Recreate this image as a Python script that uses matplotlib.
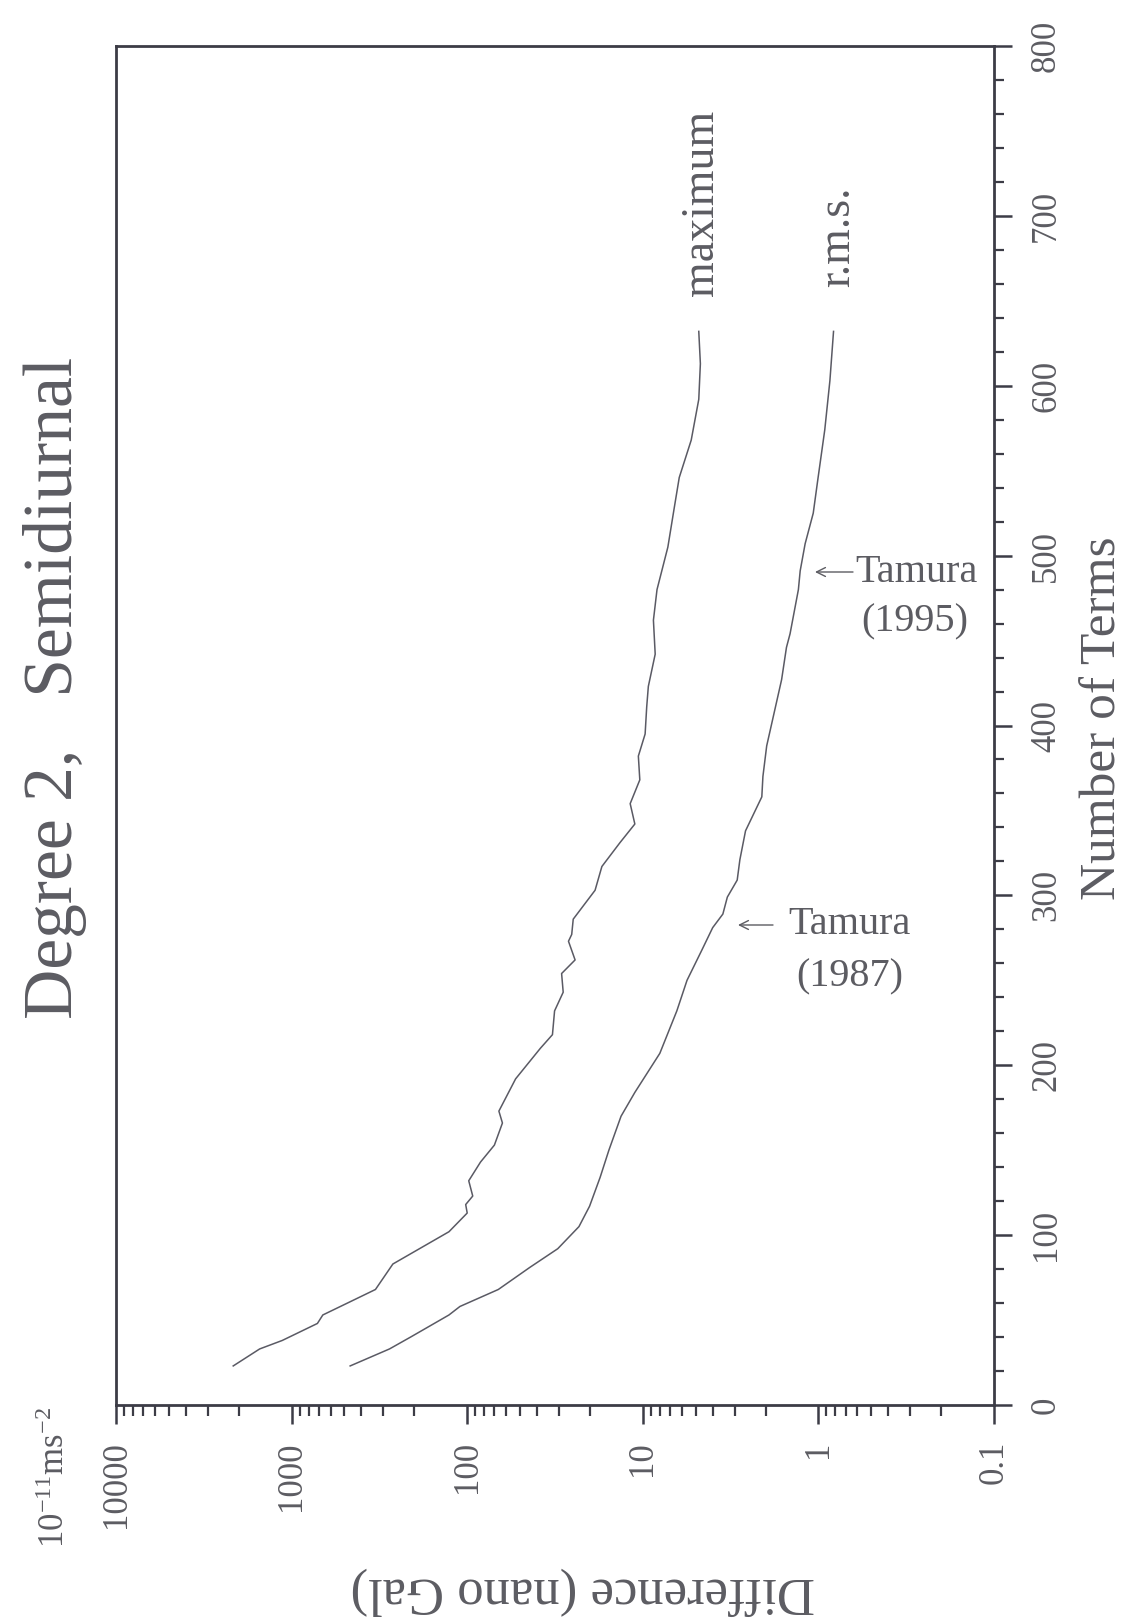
import numpy as np
import matplotlib
matplotlib.use('Agg')
import matplotlib.pyplot as plt
from matplotlib.ticker import LogLocator, NullFormatter, MultipleLocator

# ---------------- data ----------------
terms_max = [23, 33, 38, 48, 53, 60, 68, 83, 102, 113, 118, 123, 132, 143, 153,
             166, 173, 192, 210, 218, 232, 243, 254, 262, 273, 277, 286, 303,
             317, 331, 342, 354, 368, 382, 395, 411, 423, 442, 462, 480, 505,
             529, 546, 568, 592, 613, 632]
diff_max = [2150, 1520, 1130, 713, 664, 481, 333, 265, 127, 100, 102, 93, 98,
            84, 70, 63, 66, 53, 38.3, 32.7, 31.8, 28.4, 29.0, 24.3, 26.5, 25.4,
            24.9, 18.7, 17.1, 13.5, 11.1, 11.8, 10.4, 10.6, 9.7, 9.5, 9.3, 8.5,
            8.7, 8.3, 7.2, 6.6, 6.2, 5.3, 4.8, 4.7, 4.8]

terms_rms = [23, 33, 40, 53, 58, 68, 81, 92, 105, 117, 134, 150, 170, 184, 207,
             232, 250, 268, 281, 289, 299, 309, 321, 338, 358, 370, 388, 427,
             446, 454, 480, 491, 507, 525, 544, 574, 603, 632]
diff_rms = [464, 277, 210, 127, 110, 66.5, 44, 30.5, 23.1, 20.1, 17.5, 15.6,
            13.3, 11.1, 8.0, 6.4, 5.6, 4.6, 4.0, 3.5, 3.3, 2.9, 2.8, 2.6, 2.1,
            2.07, 1.97, 1.62, 1.52, 1.45, 1.30, 1.27, 1.19, 1.07, 1.01, 0.92,
            0.86, 0.82]

x_ticks = [10000, 1000, 100, 10, 1, 0.1]
x_ticklabels = ['10000', '1000', '100', '10', '1', '0.1']
y_ticks = [0, 100, 200, 300, 400, 500, 600, 700, 800]
y_ticklabels = ['0', '100', '200', '300', '400', '500', '600', '700', '800']

title = 'Degree 2,   Semidiurnal'
xlabel = 'Difference (nano Gal)'
ylabel = 'Number of Terms'
unit_label = r'$10^{-11}\mathrm{ms}^{-2}$'

# ---------------- style ----------------
FONT = ['Liberation Serif', 'DejaVu Serif']
plt.rcParams['font.family'] = FONT
plt.rcParams['mathtext.fontset'] = 'custom'
plt.rcParams['mathtext.rm'] = 'Liberation Serif'
plt.rcParams['mathtext.it'] = 'Liberation Serif:italic'
plt.rcParams['mathtext.bf'] = 'Liberation Serif:bold'

TXT = '#5c5c62'
AXC = '#3c3c46'
LINE = '#5a5a64'

W, H = 1145, 1623
fig = plt.figure(figsize=(W / 100, H / 100), dpi=100)
fig.patch.set_facecolor('white')

ax_l, ax_r, ax_t, ax_b = 116, 994, 46, 1405
ax = fig.add_axes([ax_l / W, 1 - ax_b / H, (ax_r - ax_l) / W, (ax_b - ax_t) / H])

ax.set_xscale('log')
ax.set_xlim(1e4, 0.1)
ax.set_ylim(0, 800)

ax.plot(diff_max, terms_max, color=LINE, lw=1.1)
ax.plot(diff_rms, terms_rms, color=LINE, lw=1.1)

for s in ax.spines.values():
    s.set_linewidth(2.0)
    s.set_color(AXC)

# x (log difference) axis at bottom
ax.set_xticks(x_ticks, labels=x_ticklabels)
ax.xaxis.set_minor_locator(LogLocator(base=10, subs=np.arange(2, 10) * 1.0, numticks=30))
ax.xaxis.set_minor_formatter(NullFormatter())
ax.tick_params(axis='x', which='major', direction='out', length=14, width=1.8,
               color=AXC, pad=12, labelsize=25, labelcolor=TXT, labelrotation=90)
ax.tick_params(axis='x', which='minor', direction='out', length=8, width=1.6, color=AXC)

# y (number of terms) axis at right
ax.yaxis.tick_right()
ax.set_yticks(y_ticks, labels=y_ticklabels)
ax.yaxis.set_minor_locator(MultipleLocator(20))
ax.tick_params(axis='y', which='major', direction='out', length=13, width=1.8,
               color=AXC, pad=13, labelsize=25, labelcolor=TXT, labelrotation=90,
               left=False, right=True, labelleft=False, labelright=True)
ax.tick_params(axis='y', which='minor', direction='out', length=7, width=1.6,
               color=AXC, left=False, right=True)
for lab in ax.get_yticklabels():
    lab.set_verticalalignment('center')
    lab.set_horizontalalignment('left')

# ---------------- outer texts ----------------
fig.text(55 / W, 1 - 688 / H, title, rotation=90, fontsize=50, color=TXT,
         ha='center', va='center')
fig.text(1103 / W, 1 - 718 / H, ylabel, rotation=90, fontsize=37, color=TXT,
         ha='center', va='center')
fig.text(583 / W, 1 - 1591 / H, xlabel, rotation=180, fontsize=38, color=TXT,
         ha='center', va='center')
fig.text(56 / W, 1 - 1477 / H, unit_label, rotation=90, fontsize=25, color=TXT,
         ha='center', va='center')

# ---------------- in-plot annotations ----------------
def px_to_data(xp, yp):
    lv = 4 - (xp - ax_l) / ((ax_r - ax_l) / 5.0)
    n = (ax_b - yp) / ((ax_b - ax_t) / 800.0)
    return 10 ** lv, n

x, y = px_to_data(702, 203)
ax.text(x, y, 'maximum', rotation=90, fontsize=33, color=TXT, ha='center', va='center')
x, y = px_to_data(838, 237)
ax.text(x, y, 'r.m.s.', rotation=90, fontsize=33, color=TXT, ha='center', va='center')

arrow_kw = dict(arrowstyle='->', lw=1.0, color=TXT, mutation_scale=16,
                shrinkA=0, shrinkB=0)

# Tamura (1995)
ax.annotate('', xy=px_to_data(815, 572), xytext=px_to_data(853, 572), arrowprops=arrow_kw)
x, y = px_to_data(855, 572)
ax.text(x, y, 'Tamura', fontsize=29, color=TXT, ha='left', va='center')
x, y = px_to_data(915, 622)
ax.text(x, y, '(1995)', fontsize=29, color=TXT, ha='center', va='center')

# Tamura (1987)
ax.annotate('', xy=px_to_data(738, 925), xytext=px_to_data(773, 925), arrowprops=arrow_kw)
x, y = px_to_data(788, 925)
ax.text(x, y, 'Tamura', fontsize=29, color=TXT, ha='left', va='center')
x, y = px_to_data(850, 977)
ax.text(x, y, '(1987)', fontsize=29, color=TXT, ha='center', va='center')

fig.savefig('out.png', dpi=100, facecolor='white')
